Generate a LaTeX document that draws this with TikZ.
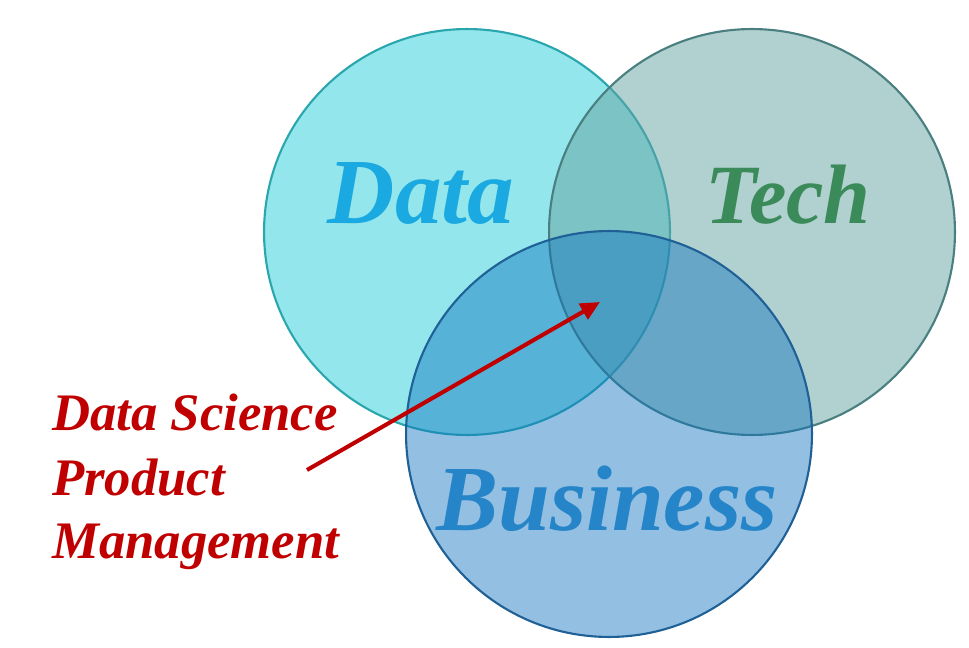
\documentclass[tikz,border=0pt]{standalone}
\usepackage{fontspec}
\setmainfont{Liberation Serif}
\usetikzlibrary{arrows.meta}
\definecolor{datafill}{HTML}{93E6EB}
\definecolor{dataline}{HTML}{2AA6AE}
\definecolor{datatext}{HTML}{1AA9E0}
\definecolor{techfill}{HTML}{64A1A1}
\definecolor{techline}{HTML}{4A7F80}
\definecolor{techtext}{HTML}{3A8A5A}
\definecolor{bizfill}{HTML}{1073BF}
\definecolor{bizline}{HTML}{1F6096}
\definecolor{biztext}{HTML}{2585C8}
\definecolor{pmred}{HTML}{C00000}
\tikzset{
  area/.style={circle, minimum size=8.12cm, line width=1.2pt},
  bigword/.style={anchor=base, font=\fontsize{53}{53}\selectfont\bfseries\itshape},
  pmword/.style={anchor=base west, font=\fontsize{30}{30}\selectfont\bfseries\itshape, text=pmred}
}
\begin{document}
\begin{tikzpicture}[x=0.02cm, y=-0.02cm]
\useasboundingbox (0,0) rectangle (969,648);
% the three sets
\node(data) [area, draw=dataline, fill=datafill] at (467,232) {};
\node(tech) [area, draw=techline, fill=techfill, fill opacity=0.5] at (752,232) {};
\node(biz) [area, draw=bizline, fill=bizfill, fill opacity=0.45] at (609,434) {};
% set names
\node(datalabel) [bigword, text=datatext] at (421,224) {Data};
\node(techlabel) [bigword, text=techtext, font=\fontsize{48}{48}\selectfont\bfseries\itshape] at (788,224) {Tech};
\node(bizlabel) [bigword, text=biztext] at (607,530) {Business};
% the role
\node(pm1) [pmword] at (46,430) {Data Science};
\node(pm2) [pmword] at (46,495) {Product};
\node(pm3) [pmword] at (46,558) {Management};
\coordinate(tail) at (307,470);
\coordinate(tip) at (600,302);
\draw[pmred, line width=2.3pt, -{Triangle[length=11pt,width=10pt]}](tail) -- (tip);
\end{tikzpicture}
\end{document}
